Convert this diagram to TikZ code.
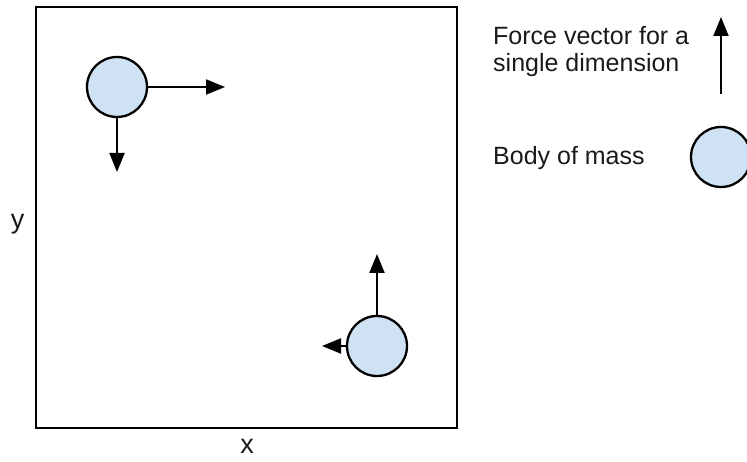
\documentclass[tikz,border=0pt]{standalone}
\usepackage{fontspec}
\setmainfont{Liberation Sans}
\usetikzlibrary{arrows.meta}
\definecolor{massfill}{HTML}{CFE2F3}
\definecolor{textgray}{HTML}{1A1A1A}
\tikzset{
  mass/.style={circle, draw=black, line width=2.3pt, fill=massfill, minimum size=60pt, inner sep=0pt},
  force/.style={line width=2pt, -{Triangle[length=19pt,width=15pt]}},
  frame/.style={draw=black, line width=2.6pt},
  lbl/.style={inner sep=0pt, font=\fontsize{25}{28}\selectfont, text=textgray},
}
\begin{document}
\begin{tikzpicture}[x=1pt,y=-1pt]
\useasboundingbox (0,0) rectangle (747,462);
% frame
\draw[frame] (36,7) rectangle (457,428);
% axis labels
\node[lbl, font=\fontsize{27}{29}\selectfont, anchor=base] (ylab) at (17.5,229) {y};
\node[lbl, font=\fontsize{27}{29}\selectfont, anchor=base] (xlab) at (247,453) {x};
% bodies
\node[mass] (b1) at (117,87) {};
\coordinate (b1r) at (225,87);
\coordinate (b1d) at (117,172);
\draw[force] (b1.east) -- (b1r);
\draw[force] (b1.south) -- (b1d);
\node[mass] (b2) at (377,346) {};
\coordinate (b2u) at (377,254);
\coordinate (b2l) at (322,346);
\draw[force] (b2.north) -- (b2u);
\draw[force] (b2.west) -- (b2l);
% legend
\node[lbl, anchor=base west] (leg1) at (493,45) {Force vector for a};
\node[lbl, anchor=base west] (leg2) at (493,72) {single dimension};
\coordinate (la0) at (721,94);
\coordinate (la1) at (721,17);
\draw[force] (la0) -- (la1);
\node[lbl, anchor=base west] (leg3) at (493,165) {Body of mass};
\node[mass] (lm) at (721,157) {};
\end{tikzpicture}
\end{document}
